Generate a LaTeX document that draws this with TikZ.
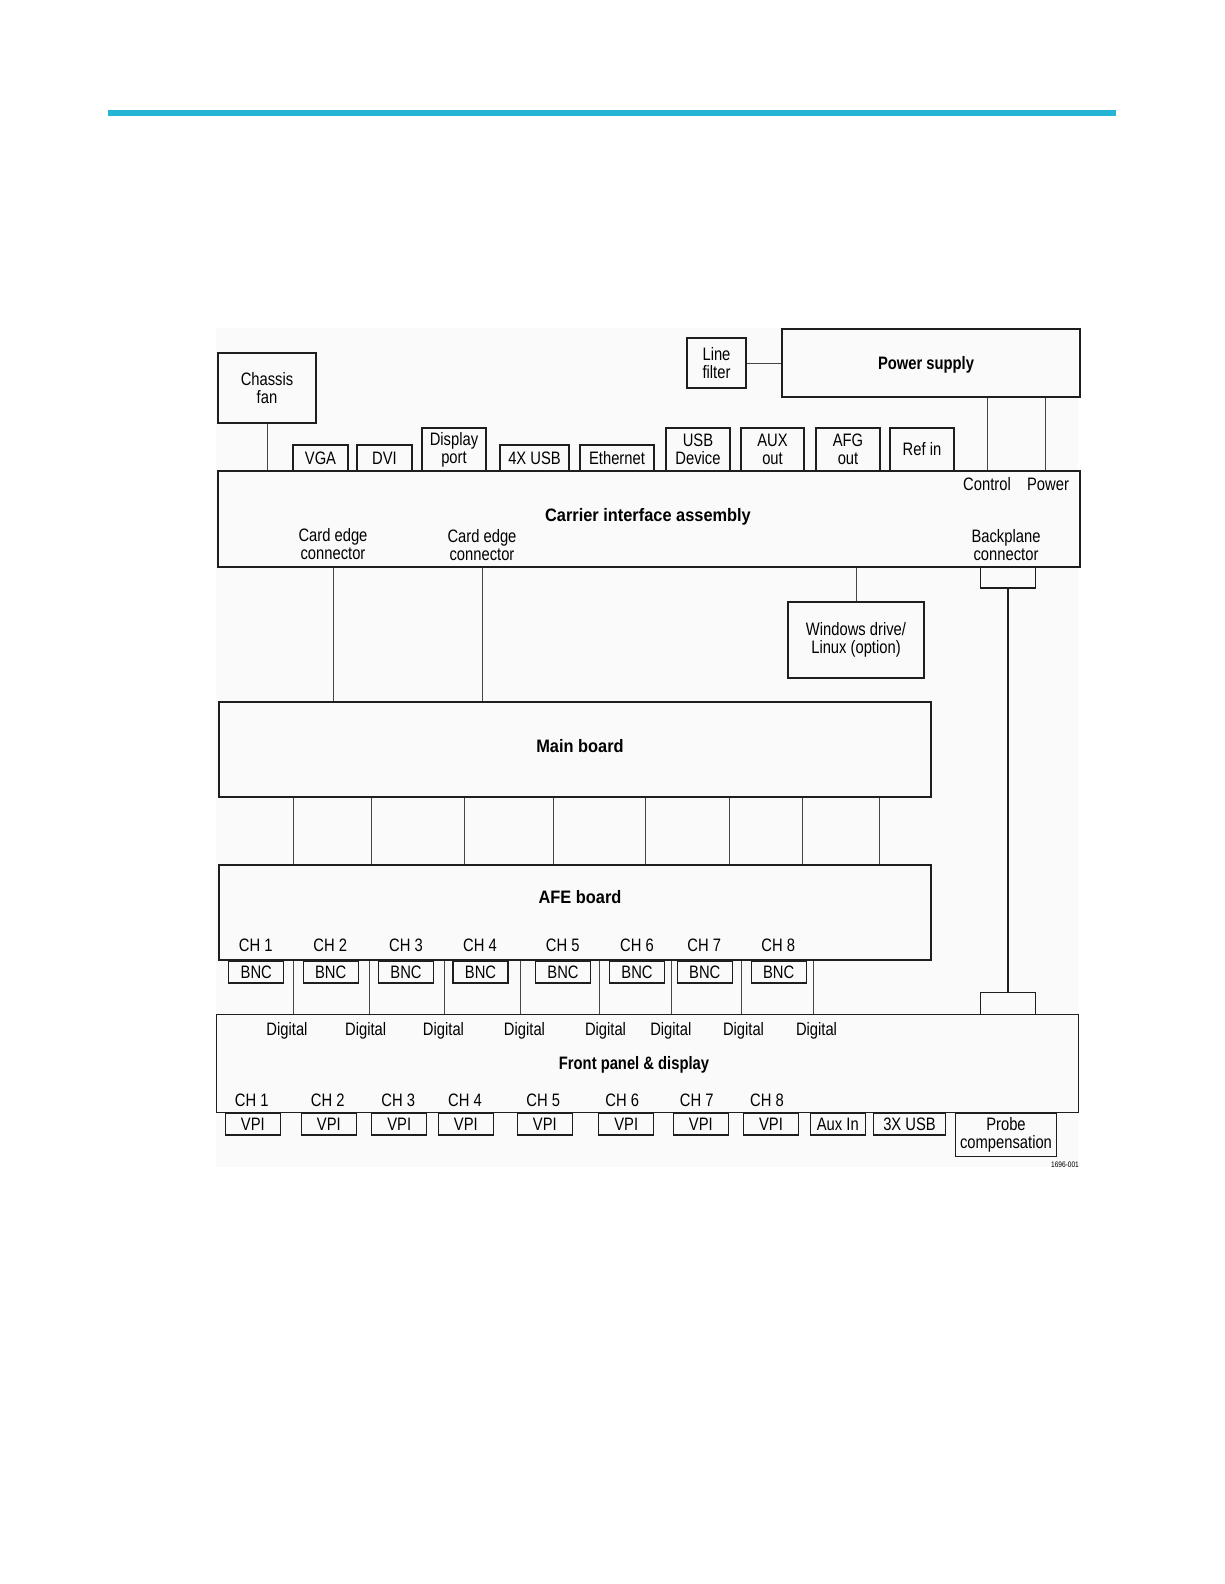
\documentclass[tikz,border=0pt]{standalone}
\usepackage{fontspec}
\setmainfont{Liberation Sans}[FakeStretch=0.82]
\newfontfamily\widefam{Liberation Sans}[FakeStretch=0.91]
\definecolor{barcyan}{RGB}{38,180,212}
\definecolor{boxline}{RGB}{30,30,30}
\definecolor{connline}{RGB}{70,70,70}
\newcommand{\lblfont}{\fontsize{18}{18}\selectfont}
\newcommand{\lblbold}{\fontsize{18}{18}\selectfont\bfseries}
\newcommand{\lblwide}{\widefam\fontsize{18}{18}\selectfont\bfseries}
\begin{document}
\begin{tikzpicture}[x=1pt,y=-1pt,
  box/.style={draw=boxline, line width=1.3pt, inner sep=0pt, align=center, font=\lblfont},
  lbl/.style={inner sep=0pt, align=center, font=\lblfont},
  title/.style={inner sep=0pt, align=center, font=\lblbold},
  widetitle/.style={inner sep=0pt, align=center, font=\lblwide},
  conn/.style={draw=connline, line width=0.9pt},
  thickconn/.style={draw=boxline, line width=1.3pt}]
\useasboundingbox (0,0) rectangle (1224,1584);
\fill[white] (0,0) rectangle (1224,1584);
\fill[black!2] (216,328) rectangle (1078,1167);
\fill[barcyan] (108,110.5) rectangle (1116,116);

% --- top blocks
\node[box, minimum width=98, minimum height=70] (fan) at (267,388) {Chassis\\fan};
\node[box, minimum width=59, minimum height=50] (lf) at (716.5,363) {Line\\filter};
\node[box, minimum width=298, minimum height=68] (ps) at (931,363) {};
\node[title] (psL) at (926,365) {Power supply};

% --- carrier interface assembly
\node[box, minimum width=862, minimum height=96] (carrier) at (649,519) {};
\node[widetitle] (carrierL) at (648,517) {Carrier interface assembly};
\node[lbl] (ce1L) at (333,544) {Card edge\\connector};
\node[lbl] (ce2L) at (482,545) {Card edge\\connector};
\node[lbl] (bplL) at (1006,545) {Backplane\\connector};
\node[lbl] (ctlL) at (987,484) {Control};
\node[lbl] (pwrL) at (1048,484) {Power};

% --- port boxes on top of carrier
\node[box, minimum width=55, minimum height=26] (vga) at (320.5,458) {VGA};
\node[box, minimum width=55, minimum height=26] (dvi) at (384.5,458) {DVI};
\node[box, minimum width=64, minimum height=43] (dp) at (454,449.5) {Display\\port};
\node[box, minimum width=69, minimum height=26] (usb4) at (534.5,458) {4X USB};
\node[box, minimum width=74, minimum height=26] (eth) at (617,458) {Ethernet};
\node[box, minimum width=64, minimum height=43] (usbd) at (698,449.5) {USB\\Device};
\node[box, minimum width=63, minimum height=43] (aux) at (772.5,449.5) {AUX\\out};
\node[box, minimum width=64, minimum height=43] (afg) at (848,449.5) {AFG\\out};
\node[box, minimum width=64, minimum height=43] (refin) at (922,449.5) {Ref in};

% --- backplane and windows
\node[box, minimum width=55, minimum height=21] (bp1) at (1008,577.5) {};
\node[box, minimum width=136, minimum height=76] (win) at (856,640) {Windows drive/\\Linux (option)};

% --- main board and AFE
\node[box, minimum width=712, minimum height=95] (main) at (575,749.5) {};
\node[widetitle] (mainL) at (580,746.5) {Main board};
\node[box, minimum width=712, minimum height=95] (afe) at (575,912.5) {};
\node[widetitle] (afeL) at (580,897.5) {AFE board};

\foreach \i/\x in {1/255.7,2/330.3,3/406,4/480,5/562.7,6/637,7/704.3,8/778.3}
  \node[lbl] (ach\i) at (\x,945) {CH \i};
\foreach \i/\x in {1/256.3,2/330.7,3/406,4/480.5,5/563,6/637,7/704.8,8/778.7}
  \node[box, minimum width=55, minimum height=22] (bnc\i) at (\x,972) {BNC};

% --- front panel
\node[box, minimum width=861.6, minimum height=98.4] (front) at (647.5,1063.5) {};
\node[title] (frontL) at (634,1065) {Front panel \& display};
\node[box, minimum width=55, minimum height=22] (bp2) at (1008,1003.2) {};

\foreach \i/\x in {1/287,2/365.7,3/443.5,4/524.5,5/605.5,6/670.8,7/743.5,8/816.5}
  \node[lbl] (dgL\i) at (\x,1031) {Digital};
\foreach \i/\x in {1/251.7,2/327.7,3/398.3,4/465,5/543.3,6/622.3,7/696.7,8/767}
  \node[lbl] (fch\i) at (\x,1100) {CH \i};
\foreach \i/\x in {1/252.8,2/328.8,3/399.2,4/465.8,5/544.8,6/626.2,7/700.8,8/771}
  \node[box, minimum width=55, minimum height=22] (vpi\i) at (\x,1124) {VPI};
\node[box, minimum width=55, minimum height=22] (auxin) at (837.8,1124) {Aux In};
\node[box, minimum width=72, minimum height=22] (usb3) at (909.5,1124) {3X USB};
\node[box, minimum width=101, minimum height=43] (probe) at (1006,1134.7) {Probe\\compensation};
\node[inner sep=0pt, font=\fontsize{8}{8}\selectfont] (fignum) at (1065,1165) {1696-001};

% --- connectors
\draw[conn] (fan.south) -- (fan.south |- carrier.north);
\draw[conn] (lf.east) -- (ps.west);
\coordinate (ctlx) at (987,0);
\coordinate (pwrx) at (1045,0);
\draw[conn] (ctlx |- ps.south) -- (ctlx |- carrier.north);
\draw[conn] (pwrx |- ps.south) -- (pwrx |- carrier.north);
\coordinate (ce1x) at (333,0);
\coordinate (ce2x) at (482,0);
\draw[conn] (ce1x |- carrier.south) -- (ce1x |- main.north);
\draw[conn] (ce2x |- carrier.south) -- (ce2x |- main.north);
\draw[conn] (win.north) -- (win.north |- carrier.south);
\draw[thickconn] (bp1.south) -- (bp2.north);
\foreach \i/\x in {1/293.6,2/371.6,3/464.6,4/553.6,5/645.5,6/729.3,7/802.8,8/879.7} {
  \coordinate (mx\i) at (\x,0);
  \draw[conn] (mx\i |- main.south) -- (mx\i |- afe.north);
}
\foreach \i/\x in {1/293.7,2/369.3,3/444.3,4/520.7,5/599.7,6/671,7/741.3,8/813.7} {
  \coordinate (dx\i) at (\x,0);
  \draw[conn] (dx\i |- afe.south) -- (dx\i |- front.north);
}
\end{tikzpicture}
\end{document}
